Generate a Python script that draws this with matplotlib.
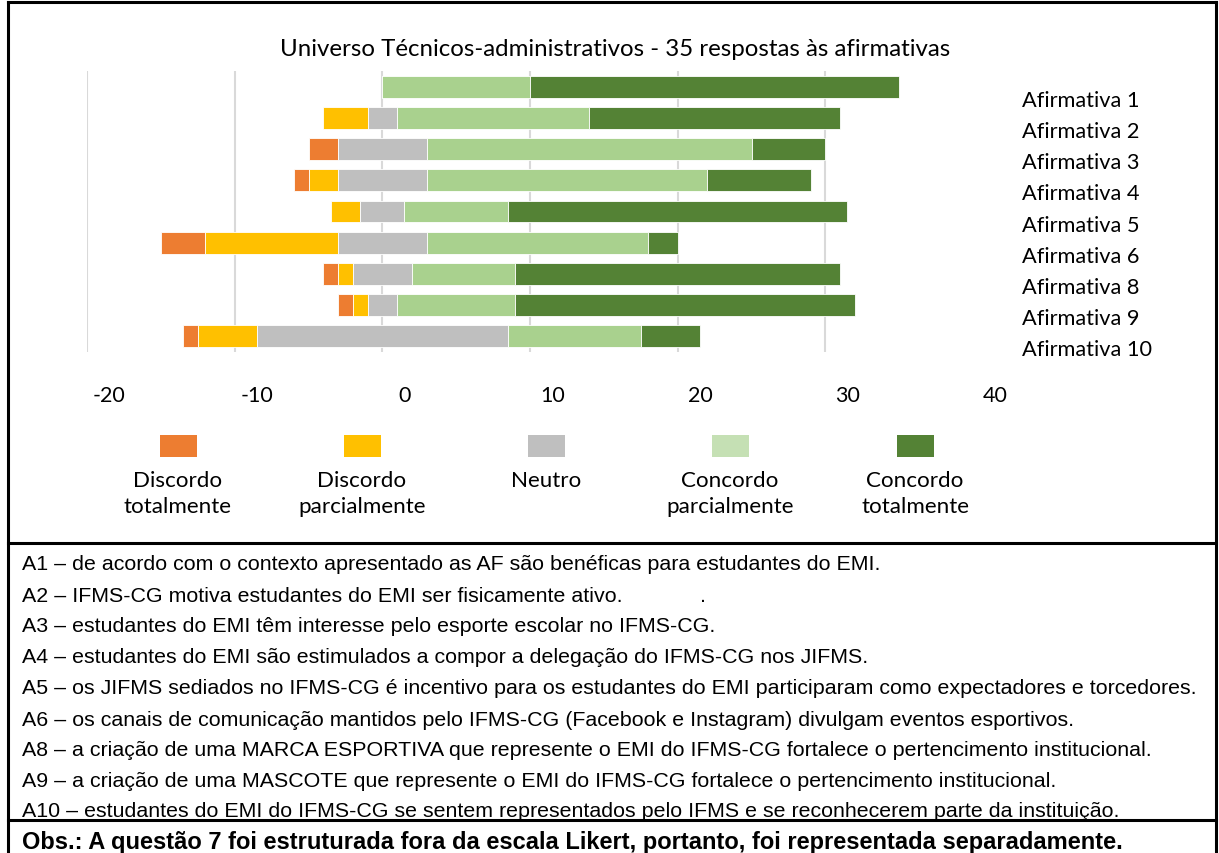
import matplotlib
matplotlib.use("Agg")
import matplotlib.pyplot as plt
import numpy as np
from matplotlib.transforms import ScaledTranslation
from matplotlib.patches import Rectangle
from matplotlib.lines import Line2D

W, H = 1219, 854

categorias = ["Afirmativa 1", "Afirmativa 2", "Afirmativa 3", "Afirmativa 4", "Afirmativa 5",
              "Afirmativa 6", "Afirmativa 8", "Afirmativa 9", "Afirmativa 10"]
discordo_total = [0, 0, 2, 1, 0, 3, 1, 1, 1]
discordo_parcial = [0, 3, 0, 2, 2, 9, 1, 1, 4]
neutro = [0, 2, 6, 6, 3, 6, 4, 2, 17]
concordo_parcial = [10, 13, 22, 19, 7, 15, 7, 8, 9]
concordo_total = [25, 17, 5, 7, 23, 2, 22, 23, 4]

niveis = ["Discordo\ntotalmente", "Discordo\nparcialmente", "Neutro",
          "Concordo\nparcialmente", "Concordo\ntotalmente"]
cores = ["#ED7D31", "#FFC000", "#BFBFBF", "#A9D18E", "#548235"]
cores_legenda = ["#ED7D31", "#FFC000", "#BFBFBF", "#C5E0B4", "#548235"]

xticks = [-20, -10, 0, 10, 20, 30, 40]
grid_x = [-20, -10, 0, 10, 20, 30]

titulo = "Universo Técnicos-administrativos - 35 respostas às afirmativas"
notas = [
    "A1 – de acordo com o contexto apresentado as AF são benéficas para estudantes do EMI.",
    "A2 – IFMS-CG motiva estudantes do EMI ser fisicamente ativo.",
    "A3 – estudantes do EMI têm interesse pelo esporte escolar no IFMS-CG.",
    "A4 – estudantes do EMI são estimulados a compor a delegação do IFMS-CG nos JIFMS.",
    "A5 – os JIFMS sediados no IFMS-CG é incentivo para os estudantes do EMI participaram como expectadores e torcedores.",
    "A6 – os canais de comunicação mantidos pelo IFMS-CG (Facebook e Instagram) divulgam eventos esportivos.",
    "A8 – a criação de uma MARCA ESPORTIVA que represente o EMI do IFMS-CG fortalece o pertencimento institucional.",
    "A9 – a criação de uma MASCOTE que represente o EMI do IFMS-CG fortalece o pertencimento institucional.",
    "A10 – estudantes do EMI do IFMS-CG se sentem representados pelo IFMS e se reconhecerem parte da instituição.",
]
obs = "Obs.: A questão 7 foi estruturada fora da escala Likert, portanto, foi representada separadamente."

CHART_FONT = ["Lato", "DejaVu Sans"]
TABLE_FONT = ["Liberation Sans", "DejaVu Sans"]


def fx(px):
    return px / W


def fy(py):
    return 1 - py / H


fig = plt.figure(figsize=(W / 100, H / 100), dpi=100)
fig.patch.set_facecolor("white")

ax = fig.add_axes([fx(87), fy(353), fx(973) - fx(87), fy(72) - fy(353)])

series = np.array([discordo_total, discordo_parcial, neutro, concordo_parcial, concordo_total], dtype=float)
start = -(series[0] + series[1] + series[2] / 2)
y = np.arange(len(categorias))
left = start.copy()
for vals, cor in zip(series, cores):
    ax.barh(y, vals, left=left, height=0.7, color=cor, edgecolor="white", linewidth=0.6, zorder=3)
    left = left + vals

for g in grid_x:
    ax.axvline(g, color="#D9D9D9", lw=1.5, zorder=1)

ax.set_xlim(-20, 40)
ax.set_ylim(len(categorias) - 0.5, -0.5)
for s in ax.spines.values():
    s.set_visible(False)

ax.set_xticks(xticks)
ax.set_xticklabels([str(t) for t in xticks], fontfamily=CHART_FONT, fontsize=15.5)
ax.tick_params(axis="x", length=0, pad=24)
for lab in ax.get_xticklabels():
    lab.set_transform(lab.get_transform() + ScaledTranslation(0.225, 0, fig.dpi_scale_trans))

ax.yaxis.tick_right()
ax.set_yticks(y)
ax.set_yticklabels(categorias, fontfamily=CHART_FONT, fontsize=15.7)
ax.tick_params(axis="y", length=0, pad=35)
for lab in ax.get_yticklabels():
    lab.set_transform(lab.get_transform() + ScaledTranslation(0, -0.11, fig.dpi_scale_trans))

fig.text(fx(615), fy(49), titulo, ha="center", va="center", fontsize=17.3, family=CHART_FONT)

# legenda: quadrado acima do texto
leg_x = [178, 362, 546, 730, 915]
for cx, cor, nome in zip(leg_x, cores_legenda, niveis):
    fig.add_artist(Rectangle((fx(cx - 18.5), fy(458)), 37 / W, 22 / H, transform=fig.transFigure,
                             facecolor=cor, edgecolor="none"))
    fig.text(fx(cx), fy(471), nome, ha="center", va="top", fontsize=16.1, family=CHART_FONT,
             linespacing=1.38)

# moldura da tabela
lw = 2.2
for xs, ys in [((8, 8), (3, 854)), ((1216, 1216), (3, 854)), ((8, 1216), (3, 3)),
               ((8, 1216), (544, 544)), ((8, 1216), (821, 821))]:
    fig.add_artist(Line2D([fx(xs[0]), fx(xs[1])], [fy(ys[0]), fy(ys[1])], transform=fig.transFigure,
                          color="black", lw=lw))

linhas_y = [565, 596, 627, 658, 689, 720, 751, 782, 812]
for ly, txt in zip(linhas_y, notas):
    fig.text(fx(22), fy(ly), txt, ha="left", va="center", fontsize=15.4, family=TABLE_FONT)
fig.text(fx(700), fy(596), ".", ha="left", va="center", fontsize=15.4, family=TABLE_FONT)
fig.text(fx(22), fy(843), obs, ha="left", va="center", fontsize=17.0, family=TABLE_FONT,
         fontweight="bold")

fig.savefig("out.png", dpi=100)
